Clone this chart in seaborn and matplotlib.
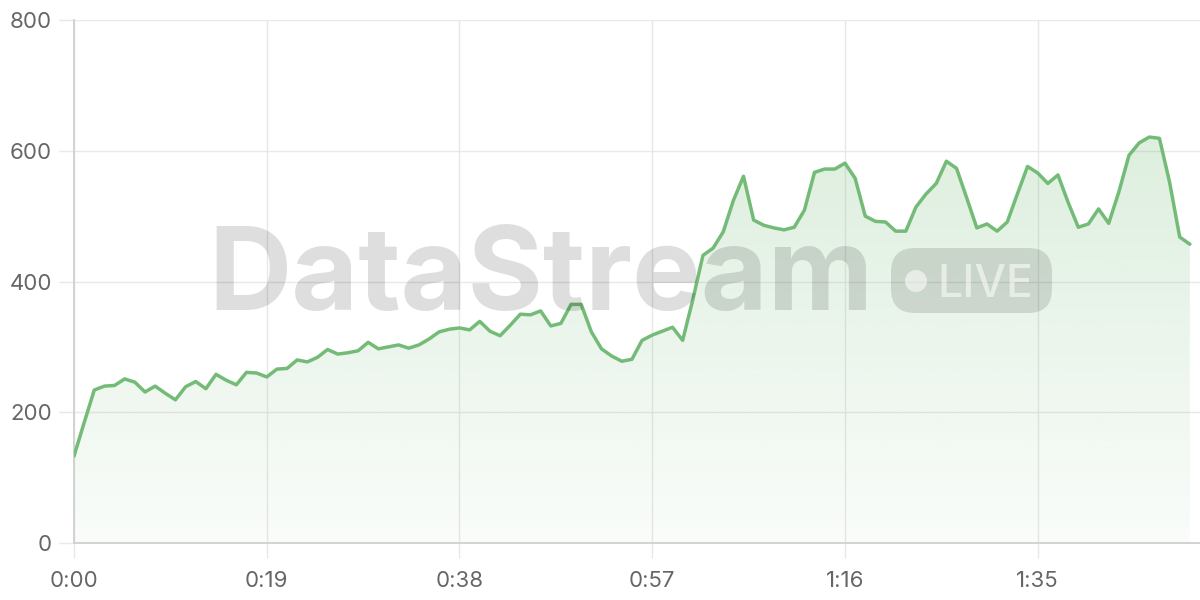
import numpy as np
import pandas as pd
import matplotlib
matplotlib.use("Agg")
import matplotlib.pyplot as plt
import seaborn as sns
from matplotlib.patches import FancyBboxPatch, Circle, Polygon

seconds = list(range(111))
values = [133, 184, 234, 240, 241, 251, 246, 231, 240, 229,
          219, 239, 247, 236, 258, 249, 242, 261, 260, 254,
          266, 267, 280, 277, 284, 296, 289, 291, 294, 307,
          297, 300, 303, 298, 303, 312, 323, 327, 329, 326,
          339, 324, 317, 333, 350, 349, 355, 332, 336, 365,
          365, 323, 297, 286, 278, 281, 310, 318, 324, 330,
          310, 372, 440, 451, 476, 524, 561, 494, 486, 482,
          479, 483, 509, 567, 572, 572, 581, 558, 500, 492,
          491, 477, 477, 514, 534, 550, 584, 573, 528, 482,
          488, 477, 491, 534, 576, 566, 550, 563, 521, 483,
          488, 511, 489, 537, 593, 612, 621, 619, 552, 468,
          457]
tick_seconds = [0, 19, 38, 57, 76, 95]
tick_labels = ["0:00", "0:19", "0:38", "0:57", "1:16", "1:35"]
y_ticks = [0, 200, 400, 600, 800]

df = pd.DataFrame({"t": seconds, "v": values})

sns.set_theme(style="white")
plt.rcParams["font.family"] = ["Inter", "DejaVu Sans"]

fig = plt.figure(figsize=(12, 6), dpi=100)
ax = fig.add_axes([74/1200, 1-543/600, 1-74/1200, (543-20)/600])

line_color = "#74bb78"
ax.set_xlim(0, 111.0)
ax.set_ylim(0, 800)

# gradient fill
grad = np.linspace(0.30, 0.04, 256).reshape(-1, 1)
rgba = np.zeros((256, 1, 4))
rgba[..., 0] = 116/255
rgba[..., 1] = 187/255
rgba[..., 2] = 120/255
rgba[..., 3] = grad
im = ax.imshow(rgba, extent=[0, 111, 0, 800], aspect="auto", origin="upper", zorder=1)
poly_xy = np.column_stack([np.r_[seconds[0], seconds, seconds[-1]],
                           np.r_[0, values, 0]])
clip = Polygon(poly_xy, closed=True, facecolor="none", edgecolor="none",
               transform=ax.transData)
ax.add_patch(clip)
im.set_clip_path(clip)

sns.lineplot(data=df, x="t", y="v", ax=ax, color=line_color, linewidth=2.5, zorder=3)
ax.set_xlim(0, 111.0)
ax.set_ylim(0, 800)

ax.set_xticks(tick_seconds)
ax.set_xticklabels(tick_labels)
ax.set_yticks(y_ticks)
ax.set_xlabel("")
ax.set_ylabel("")
ax.grid(True, color="#e8e8e8", linewidth=1.0, zorder=0)
ax.set_axisbelow(True)
for s in ["top", "right"]:
    ax.spines[s].set_visible(False)
for s in ["left", "bottom"]:
    ax.spines[s].set_color("#d2d2d2")
    ax.spines[s].set_linewidth(1.4)
ax.tick_params(axis="both", which="major", length=11, width=1.0, color="#e8e8e8",
               labelsize=16, labelcolor="#666666")
ax.tick_params(axis="x", pad=9, bottom=True)
ax.tick_params(axis="y", pad=5, left=True)

# watermark
fig.text(208/1200, 1-310/600, "DataStream", fontsize=83, fontweight="bold",
         color="black", alpha=0.13, ha="left", va="baseline", zorder=10,
         family=["Inter", "DejaVu Sans"])
badge = FancyBboxPatch((891/1200, 1-313/600), (1052-891)/1200, (313-248)/600,
                       boxstyle="round,pad=0,rounding_size=0.02",
                       transform=fig.transFigure, facecolor="black", alpha=0.12,
                       edgecolor="none", zorder=10, mutation_aspect=2)
fig.patches.append(badge)
fig.text(937/1200, 1-297/600, "LIVE", fontsize=32, fontweight="medium", color="white",
         alpha=0.55, ha="left", va="baseline", zorder=11, family=["Inter", "DejaVu Sans"])
dot = Circle((916, 600-281), 11, transform=None, facecolor="white", alpha=0.55,
             edgecolor="none", zorder=11)
fig.patches.append(dot)

fig.savefig("out.png", dpi=100)
